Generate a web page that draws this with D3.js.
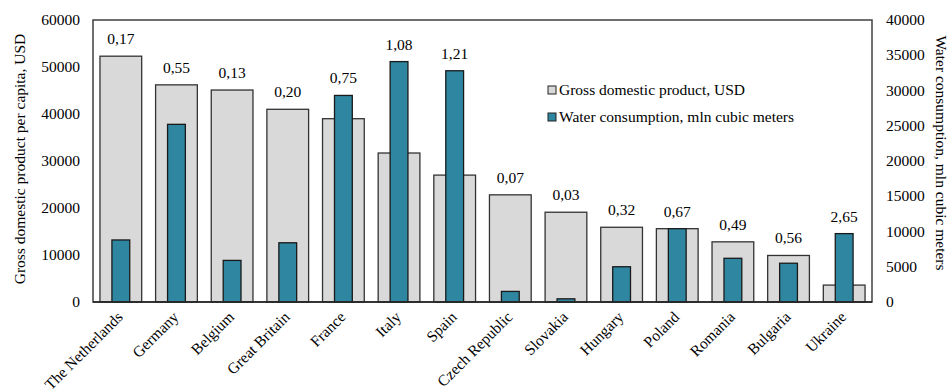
<!DOCTYPE html>
<html>
<head>
<meta charset="utf-8">
<script src="https://cdn.jsdelivr.net/npm/d3@7"></script>
<style>
  body { margin: 0; background: white; }
</style>
</head>
<body>
<div id="container"></div>
<script>
let w = 952;
let h = 392;

// data
let countries = ["The Netherlands", "Germany", "Belgium", "Great Britain", "France", "Italy", "Spain",
  "Czech Republic", "Slovakia", "Hungary", "Poland", "Romania", "Bulgaria", "Ukraine"];
let gdp = [52300, 46200, 45100, 41000, 39000, 31700, 27000, 22800, 19100, 15900, 15600, 12800, 9900, 3600];
let water = [8800, 25200, 5900, 8400, 29300, 34100, 32800, 1500, 450, 5000, 10400, 6200, 5500, 9700];
let ratios = ["0,17", "0,55", "0,13", "0,20", "0,75", "1,08", "1,21", "0,07", "0,03", "0,32", "0,67", "0,49", "0,56", "2,65"];
let leftTicks = [0, 10000, 20000, 30000, 40000, 50000, 60000];
let rightTicks = [0, 5000, 10000, 15000, 20000, 25000, 30000, 35000, 40000];
let legendLabels = ["Gross domestic product, USD", "Water consumption, mln cubic meters"];

let plotL = 93, plotR = 872, plotT = 20, plotB = 302;
let fontSize = "15.5px";
let fontFam = "'Liberation Serif', 'DejaVu Serif', serif";
let grey = "#d9d9d9";
let blue = "#2e86a0";
let edge = "#333";

let viz = d3.select("#container").append("svg")
    .attr("width", w)
    .attr("height", h)
    .attr("font-family", fontFam)
    .style("font-family", fontFam);

let xScale = d3.scaleBand().domain(countries).range([plotL, plotR]).padding(0);
let yLeft = d3.scaleLinear().domain([0, 60000]).range([plotB, plotT]);
let yRight = d3.scaleLinear().domain([0, 40000]).range([plotB, plotT]);

let bw = xScale.bandwidth();
let greyW = bw * 0.75;
let blueW = bw * 0.32;

// grey bars (GDP)
viz.selectAll(".gdpBar").data(countries).enter()
  .append("rect")
    .attr("class", "gdpBar")
    .attr("x", function(d){ return xScale(d) + (bw - greyW) / 2; })
    .attr("y", function(d, i){ return yLeft(gdp[i]); })
    .attr("width", greyW)
    .attr("height", function(d, i){ return plotB - yLeft(gdp[i]); })
    .attr("fill", grey)
    .attr("stroke", edge)
    .attr("stroke-width", 1.3);

// blue bars (water)
viz.selectAll(".waterBar").data(countries).enter()
  .append("rect")
    .attr("class", "waterBar")
    .attr("x", function(d){ return xScale(d) + (bw - blueW) / 2; })
    .attr("y", function(d, i){ return yRight(water[i]); })
    .attr("width", blueW)
    .attr("height", function(d, i){ return plotB - yRight(water[i]); })
    .attr("fill", blue)
    .attr("stroke", "#1a1a1a")
    .attr("stroke-width", 1.3);

// ratio labels above the taller bar
viz.selectAll(".ratio").data(countries).enter()
  .append("text")
    .attr("class", "ratio")
    .attr("x", function(d){ return xScale(d) + bw / 2; })
    .attr("y", function(d, i){ return Math.min(yLeft(gdp[i]), yRight(water[i])) - 12; })
    .attr("text-anchor", "middle")
    .style("font-size", fontSize)
    .text(function(d, i){ return ratios[i]; });

// frame
viz.append("rect")
  .attr("x", plotL).attr("y", plotT)
  .attr("width", plotR - plotL).attr("height", plotB - plotT)
  .attr("fill", "none")
  .attr("stroke", "#404040")
  .attr("stroke-width", 1.5);
viz.append("line")
  .attr("x1", plotL).attr("x2", plotR)
  .attr("y1", plotB).attr("y2", plotB)
  .attr("stroke", "#222").attr("stroke-width", 1.5);

// left axis labels
viz.selectAll(".lTick").data(leftTicks).enter()
  .append("text")
    .attr("class", "lTick")
    .attr("x", plotL - 13)
    .attr("y", function(d){ return yLeft(d) + 5; })
    .attr("text-anchor", "end")
    .style("font-size", fontSize)
    .text(function(d){ return d; });

// right axis labels
viz.selectAll(".rTick").data(rightTicks).enter()
  .append("text")
    .attr("class", "rTick")
    .attr("x", plotR + 14)
    .attr("y", function(d){ return yRight(d) + 5; })
    .attr("text-anchor", "start")
    .style("font-size", fontSize)
    .text(function(d){ return d; });

// x labels
viz.selectAll(".xLab").data(countries).enter()
  .append("text")
    .attr("class", "xLab")
    .attr("transform", function(d){
      return "translate(" + (xScale(d) + bw / 2 + 3) + "," + (plotB + 16) + ") rotate(-45)";
    })
    .attr("text-anchor", "end")
    .style("font-size", fontSize)
    .text(function(d){ return d; });

// axis titles
viz.append("text")
  .attr("transform", "translate(25," + 159 + ") rotate(-90)")
  .attr("text-anchor", "middle")
  .style("font-size", fontSize)
  .text("Gross domestic product per capita, USD");
viz.append("text")
  .attr("transform", "translate(936," + 153 + ") rotate(90)")
  .attr("text-anchor", "middle")
  .style("font-size", fontSize)
  .text("Water consumption, mln cubic meters");

// legend
let legend = viz.selectAll(".legendItem").data(legendLabels).enter()
  .append("g")
    .attr("class", "legendItem")
    .attr("transform", function(d, i){ return "translate(548," + (90 + i * 27) + ")"; });
legend.append("rect")
  .attr("x", 0).attr("y", -4)
  .attr("width", 8).attr("height", 8)
  .attr("fill", function(d, i){ return i == 0 ? grey : blue; })
  .attr("stroke", "#222")
  .attr("stroke-width", 1);
legend.append("text")
  .attr("x", 11)
  .attr("y", 5)
  .style("font-size", fontSize)
  .text(function(d){ return d; });
</script>
</body>
</html>
